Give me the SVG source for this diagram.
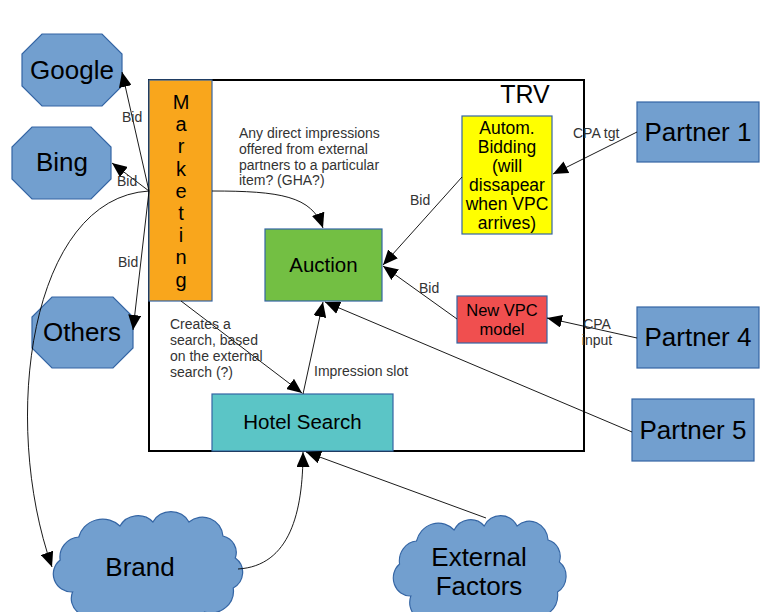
<svg xmlns="http://www.w3.org/2000/svg" width="773" height="612" viewBox="0 0 773 612">
<style>
text{font-family:"Liberation Sans",Arial,sans-serif;fill:#000}
.lbl{font-size:14px;fill:#333}
.big{font-size:26px}
.mid{font-size:20.5px}
.sm{font-size:17.5px}
.blue{fill:#729fcf;stroke:#3465a4;stroke-width:1.2}
.box{stroke:#3465a4;stroke-width:1.2}
.ln{fill:none;stroke:#000;stroke-width:0.9}
.arr{marker-end:url(#ah)}
</style>
<defs>
<marker id="ah" markerUnits="userSpaceOnUse" markerWidth="16" markerHeight="13" refX="15" refY="6.5" orient="auto">
<path d="M0,0 L15,6.5 L0,13 Z" fill="#000"/>
</marker>
<path id="cloud" d="M72,592 A18,18 0 0 1 60,560 A20,20 0 0 1 78,537 A24,24 0 0 1 118,526 A20,20 0 0 1 150,522 A20,20 0 0 1 185,522 A20,20 0 0 1 218,536 A17,17 0 0 1 230,558 A18,18 0 0 1 228,588 A22,22 0 0 1 200,612 A32,32 0 0 1 145,622 A30,30 0 0 1 98,614 A18,18 0 0 1 72,592 Z"/>
</defs>

<g id="trv">
<rect x="149" y="80" width="435" height="371" fill="#fff" stroke="#000" stroke-width="2"/>
<text x="525" y="103" style="font-size:25px" text-anchor="middle">TRV</text>
</g>

<g id="google">
<polygon class="blue" points="42,34 102,34 122,54 122,86 102,106 42,106 22,86 22,54"/>
<text x="72" y="79" class="big" text-anchor="middle">Google</text>
</g>
<g id="bing">
<polygon class="blue" points="32,127 91,127 111,147 111,179 91,199 32,199 12,179 12,147"/>
<text x="62" y="171" class="big" text-anchor="middle">Bing</text>
</g>
<g id="others">
<polygon class="blue" points="52,297 113,297 133,317 133,348 113,368 52,368 32,348 32,317"/>
<text x="82" y="341" class="big" text-anchor="middle">Others</text>
</g>

<g id="marketing">
<rect x="149" y="80" width="63" height="221" fill="#f9a61c" class="box"/>
<text x="181" y="109" style="font-size:20px" text-anchor="middle"><tspan x="181">M</tspan><tspan x="181" dy="22.2">a</tspan><tspan x="181" dy="22.2">r</tspan><tspan x="181" dy="22.2">k</tspan><tspan x="181" dy="22.2">e</tspan><tspan x="181" dy="22.2">t</tspan><tspan x="181" dy="22.2">i</tspan><tspan x="181" dy="22.2">n</tspan><tspan x="181" dy="22.2">g</tspan></text>
</g>

<g id="auction">
<rect x="265" y="229" width="117" height="72" fill="#73bf43" class="box"/>
<text x="323.5" y="272" class="mid" text-anchor="middle">Auction</text>
</g>

<g id="hotelsearch">
<rect x="212" y="394" width="181" height="57" fill="#5bc5c6" class="box"/>
<text x="302.5" y="429" class="mid" text-anchor="middle">Hotel Search</text>
</g>

<g id="autombidding">
<rect x="462" y="116" width="90" height="118" fill="#ffff00" class="box"/>
<text class="sm" text-anchor="middle"><tspan x="507" y="134">Autom.</tspan><tspan x="507" y="153">Bidding</tspan><tspan x="507" y="172">(will</tspan><tspan x="507" y="191">dissapear</tspan><tspan x="507" y="210">when VPC</tspan><tspan x="507" y="229">arrives)</tspan></text>
</g>

<g id="newvpc">
<rect x="457" y="296" width="90" height="47" fill="#f04f4f" class="box"/>
<text style="font-size:16.5px" text-anchor="middle"><tspan x="502" y="316">New VPC</tspan><tspan x="502" y="335">model</tspan></text>
</g>

<g id="partner1">
<rect x="637" y="102" width="122" height="60" class="blue"/>
<text x="698" y="141" class="big" text-anchor="middle">Partner 1</text>
</g>
<g id="partner4">
<rect x="637" y="307" width="122" height="61" class="blue"/>
<text x="698" y="346" class="big" text-anchor="middle">Partner 4</text>
</g>
<g id="partner5">
<rect x="632" y="399" width="122" height="62" class="blue"/>
<text x="693" y="439" class="big" text-anchor="middle">Partner 5</text>
</g>

<g id="brand">
<use href="#cloud" class="blue" transform="translate(53,0) scale(1.03,1) translate(-53,0)"/>
<text x="140" y="576" class="big" text-anchor="middle">Brand</text>
</g>
<g id="external">
<use href="#cloud" class="blue" transform="translate(393,4) scale(0.94,1) translate(-53,0)"/>
<text class="big" text-anchor="middle"><tspan x="479" y="566">External</tspan><tspan x="479" y="595">Factors</tspan></text>
</g>

<g id="connectors">
<path class="ln arr" d="M149,191 L122,72"/>
<path class="ln arr" d="M149,191 L112,163"/>
<path class="ln arr" d="M149,191 C30,198 0,420 52,567"/>
<path class="ln arr" d="M149,191 L133,330"/>
<path class="ln arr" d="M212,191 C280,191 312,196 323,228"/>
<path class="ln arr" d="M181,301 L302,393"/>
<path class="ln arr" d="M303,394 L323,302"/>
<path class="ln arr" d="M462,177 L383,265"/>
<path class="ln arr" d="M457,319 L383,266"/>
<path class="ln arr" d="M632,432 L325,302"/>
<path class="ln arr" d="M637,132 L553,174"/>
<path class="ln arr" d="M637,338 L547,318"/>
<path class="ln arr" d="M238,569 C290,566 303,512 303,452"/>
<path class="ln arr" d="M486,518 L306,452"/>
</g>

<g id="labels">
<text class="lbl" x="122" y="122">Bid</text>
<text class="lbl" x="117" y="186">Bid</text>
<text class="lbl" x="118" y="267">Bid</text>
<text class="lbl" x="410" y="205">Bid</text>
<text class="lbl" x="419" y="293">Bid</text>
<text class="lbl" x="573" y="138">CPA tgt</text>
<text class="lbl" text-anchor="middle"><tspan x="597" y="329">CPA</tspan><tspan x="597" y="345">input</tspan></text>
<text class="lbl" x="314" y="376">Impression slot</text>
<text class="lbl"><tspan x="239" y="138">Any direct impressions</tspan><tspan x="239" y="154">offered from external</tspan><tspan x="239" y="169.5">partners to a particular</tspan><tspan x="239" y="185">item? (GHA?)</tspan></text>
<text class="lbl"><tspan x="170" y="329">Creates a</tspan><tspan x="170" y="345">search, based</tspan><tspan x="170" y="361">on the external</tspan><tspan x="170" y="377">search (?)</tspan></text>
</g>
</svg>
